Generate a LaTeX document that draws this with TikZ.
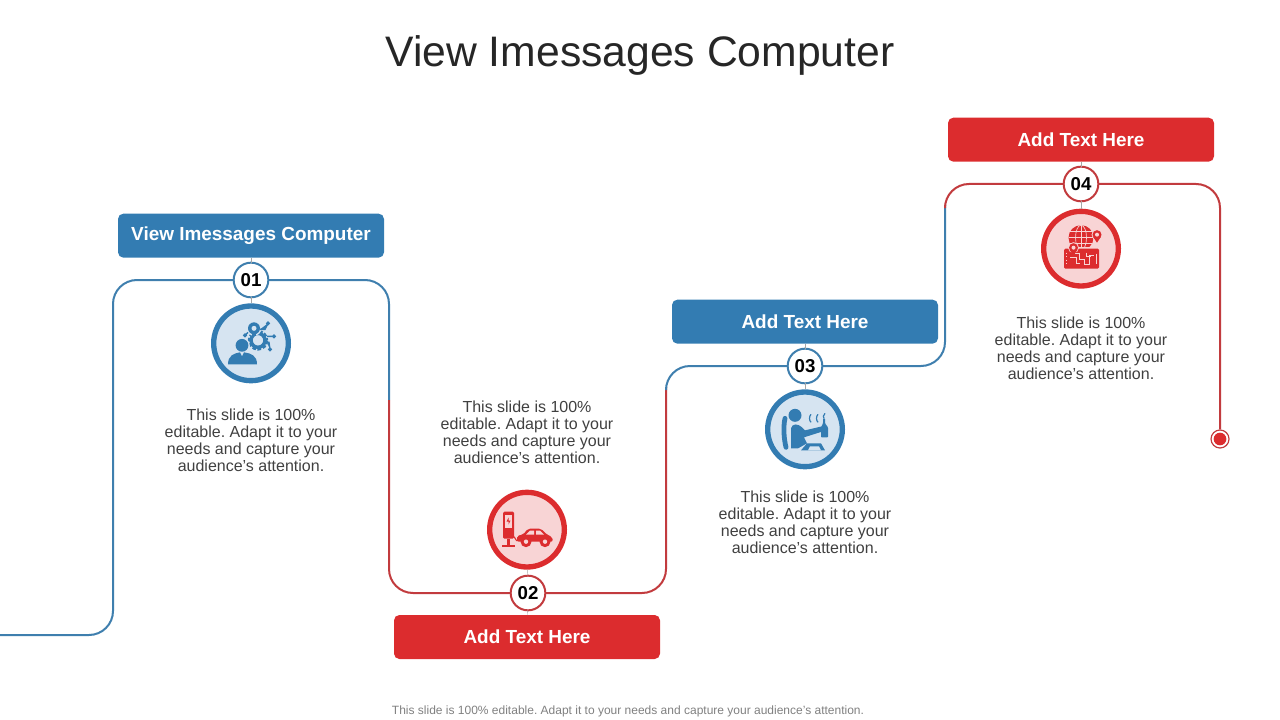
\documentclass[tikz,border=0pt]{standalone}
\usepackage{fontspec}
\setmainfont{Liberation Sans}
\frenchspacing
\usetikzlibrary{arrows,calc,positioning}
\definecolor{myblue}{HTML}{337CB2}
\definecolor{myred}{HTML}{DC2C2E}
\definecolor{wireblue}{HTML}{3F7FAE}
\definecolor{wirered}{HTML}{C23B3E}
\definecolor{paleblue}{HTML}{D6E4F1}
\definecolor{palered}{HTML}{F8D4D5}
\tikzset{
	wire/.style={line width=1.5pt,rounded corners=18pt},
	header/.style={minimum width=199.5pt,minimum height=33pt,rounded corners=4pt,inner sep=0pt,outer sep=0pt,text=white,font=\bfseries\fontsize{14.2}{16}\selectfont},
	number/.style={circle,draw,fill=white,line width=1.5pt,minimum size=26pt,inner sep=0pt,outer sep=0pt,font=\bfseries\fontsize{14}{16}\selectfont},
	icon/.style={circle,draw,line width=4pt,minimum size=56pt,inner sep=0pt,outer sep=2pt},
	body/.style={align=center,text=black!75,inner sep=0pt,font=\fontsize{12}{12.75}\selectfont},
	tick/.style={draw=black!35,line width=0.3pt}
}
\begin{document}
\begin{tikzpicture}[x=0.75pt,y=-0.75pt]
		\useasboundingbox (0,0) rectangle (1280,720);
		\node[text=black!85,font=\fontsize{32}{36}\selectfont] (title) at (640,55) {View Imessages Computer};
		\node[text=black!50,font=\fontsize{9}{11}\selectfont] (foot) at (628,711) {This slide is 100\% editable. Adapt it to your needs and capture your audience's attention.};
		% numbers
		\node[number,draw=wireblue] (n1) at (251,280) {01};
		\node[number,draw=wirered] (n2) at (528,593) {02};
		\node[number,draw=wireblue] (n3) at (805,366) {03};
		\node[number,draw=wirered] (n4) at (1081,184) {04};
		% headers
		\node[header,fill=myblue,above=3.75pt of n1] (h1) {View Imessages Computer};
		\node[header,fill=myred,below=3.5pt of n2,xshift=-0.75pt] (h2) {Add Text Here};
		\node[header,fill=myblue,above=3.75pt of n3] (h3) {Add Text Here};
		\node[header,fill=myred,above=3.75pt of n4] (h4) {Add Text Here};
		% icons
		\node[icon,draw=myblue,fill=paleblue,below=4.5pt of n1] (i1) {};
		\node[icon,draw=myred,fill=palered,above=4.5pt of n2,xshift=-0.75pt] (i2) {};
		\node[icon,draw=myblue,fill=paleblue,below=4.5pt of n3] (i3) {};
		\node[icon,draw=myred,fill=palered,below=5.5pt of n4] (i4) {};
		% texts
		\node[body,below=19pt of i1] (t1) {This slide is 100\%\\editable. Adapt it to your\\needs and capture your\\audience's attention.};
		\node[body,above=19pt of i2] (t2) {This slide is 100\%\\editable. Adapt it to your\\needs and capture your\\audience's attention.};
		\node[body,below=16pt of i3] (t3) {This slide is 100\%\\editable. Adapt it to your\\needs and capture your\\audience's attention.};
		\node[body,below=21pt of i4] (t4) {This slide is 100\%\\editable. Adapt it to your\\needs and capture your\\audience's attention.};
		% wire
		\coordinate (s0) at (0,635);
		\coordinate (k1) at (113,280);
		\coordinate (b1) at (389,400);
		\coordinate (b2) at (666,387);
		\coordinate (b3) at (945,205);
		\node[circle,draw=wirered,fill=white,line width=0.9pt,minimum size=13.5pt,inner sep=0pt] (endpt) at (1220,439) {};
		\node[circle,fill=myred,minimum size=9.5pt,inner sep=0pt] (endin) at (endpt) {};
		\draw[wire,wireblue] (s0) -| (k1) -- (n1);
		\draw[wire,wireblue] (n1) -| (b1);
		\draw[wire,wirered] (b1) |- (n2);
		\draw[wire,wirered] (n2) -| (b2);
		\draw[wire,wireblue] (b2) |- (n3);
		\draw[wire,wireblue] (n3) -| (b3);
		\draw[wire,wirered] (b3) |- (n4);
		\draw[wire,wirered] (n4) -| (endpt);
		\foreach \a/\b in {h1/n1,n1/i1,i2/n2,n2/h2,h3/n3,n3/i3,h4/n4,n4/i4}
			\draw[tick] (\a) -- (\b);
		% icon 1: person, gear, bulb
		\begin{scope}[shift={(i1.center)},myblue]
			\draw[line width=3.4pt,dash pattern=on 2.4pt off 1.2pt] (7,-3) circle (8);
			\draw[line width=2.6pt] (7,-3) circle (7);
			\fill[paleblue] (3,-15) circle (7.5);
			\fill (3,-15) circle (6);
			\fill[paleblue] (3,-15) circle (2.5);
			\fill (1,-9.5) rectangle (5,-7);
			\draw[line width=1pt,fill=myblue] (9,-14) -- (14,-14) -- (17,-20) circle (1.3);
			\draw[line width=1pt,fill=myblue] (16,-7) -- (23,-7) circle (1.3);
			\draw[line width=1pt,fill=myblue] (16,-1) -- (18,-1) -- (19,6) circle (1.3);
			\draw[line width=1pt,fill=myblue] (-3,-11) -- (-6,-8) circle (1.3);
			\fill[paleblue] (-9,2) circle (7.8);
			\fill (-9,2) circle (6.4);
			\fill[paleblue] (-23,9) -- (8,9) -- (8,22) -- (-23,22) -- cycle;
			\fill (-23,21) .. controls (-23,12) and (-17,10) .. (-11,9) -- (-9,13) -- (-7,9) .. controls (0,10) and (6,12) .. (6,21) -- cycle;
		\end{scope}
		% icon 2: charger and car
		\begin{scope}[shift={(i2.center)},myred]
			\fill[rounded corners=1pt] (-24,-18) rectangle (-13,9);
			\fill[palered] (-22,-15) rectangle (-15,-2);
			\fill (-18.5,-12) -- (-20.5,-8) -- (-18.5,-8) -- (-18.5,-5) -- (-16.5,-9) -- (-18.5,-9) -- cycle;
			\fill (-20,9) rectangle (-17,16);
			\fill (-25,15) rectangle (-12,17.5);
			\draw[line width=0.8pt] (-13,7) .. controls (-10,11) and (-11,12) .. (-8,11);
			\fill[rounded corners=1.5pt] (-10,12) -- (-10,6) -- (-4,5) -- (1,-1) -- (14,-1) -- (20,5) -- (25,7) -- (26,12) -- cycle;
			\fill[palered] (-1,5) -- (3,1) -- (7,1) -- (7,5) -- cycle;
			\fill[palered] (9,1) -- (13,1) -- (17,5) -- (9,5) -- cycle;
			\fill (-1,12) circle (5.5);
			\fill (18,12) circle (5.5);
			\fill[palered] (-1,12) circle (2.2);
			\fill[palered] (18,12) circle (2.2);
		\end{scope}
		% icon 3: driver with bottle
		\begin{scope}[shift={(i3.center)},myblue]
			\fill (-10,-14) circle (6.5);
			\draw[line width=3.6pt,line cap=round] (-20,-11) .. controls (-22,-2) and (-21,10) .. (-19,18);
			\fill (-14,-1) .. controls (-13,-6) and (-7,-6) .. (-3,-2) -- (0,1) -- (17,-3) -- (18,2) -- (-1,8) -- (2,14) -- (-7,19) -- (-14,19) -- cycle;
			\fill[rounded corners=0.6pt] (18,-11) -- (20,-11) -- (20,-6) -- (23,-2) -- (23,8) -- (16,8) -- (16,-2) -- (18,-6) -- cycle;
			\draw[line width=0.9pt] (6,-15) .. controls (4,-13) and (4,-9) .. (6,-7);
			\draw[line width=0.9pt] (13,-15) .. controls (11,-13) and (11,-9) .. (13,-7);
			\draw[line width=0.9pt] (20,-16) .. controls (18,-14) and (18,-12) .. (19,-11);
			\fill (-4,21) -- (2,14) -- (16,14) -- (20,21) -- cycle;
			\fill[paleblue] (3,21) -- (5,17) -- (14,17) -- (16,21) -- cycle;
		\end{scope}
		% icon 4: globe and tablet
		\begin{scope}[shift={(i4.center)},myred]
			\fill (0,-11) circle (12.5);
			\begin{scope}[palered,line width=0.5pt]
				\draw (0,-11) ellipse (5.5 and 12.5);
				\draw (0,-23.5) -- (0,1.5);
				\draw (-12.5,-11) -- (12.5,-11);
				\draw (-11,-17) -- (11,-17);
				\draw (-11,-5) -- (11,-5);
			\end{scope}
			\fill[palered] (-19,-2) rectangle (20,22);
			\fill[rounded corners=1pt] (-17,0) rectangle (18,20);
			\begin{scope}[palered,line width=0.7pt]
				\draw (-8,5) -- (-2,5) -- (-2,11) -- (3,11) -- (3,16) -- (8,16) -- (8,7) -- (13,7);
				\draw (-11,9) -- (-5,9) -- (-5,15) -- (-1,15);
				\draw (5,4) -- (5,8) -- (10,8);
				\draw[dotted] (-14.5,4) -- (-14.5,17);
				\draw (15.5,5) -- (15.5,15);
			\end{scope}
			\fill[palered] (-7.5,-1) circle (5.5);
			\fill (-7.5,-1) circle (4.5);
			\fill (-11.5,1) -- (-7.5,7) -- (-3.5,1) -- cycle;
			\fill[palered] (-7.5,-1) circle (2);
			\fill[palered] (16,-14) circle (5.5);
			\fill (16,-14) circle (4.5);
			\fill (12,-12) -- (16,-6) -- (20,-12) -- cycle;
			\fill[palered] (16,-14) circle (2);
		\end{scope}
	\end{tikzpicture}
\end{document}
